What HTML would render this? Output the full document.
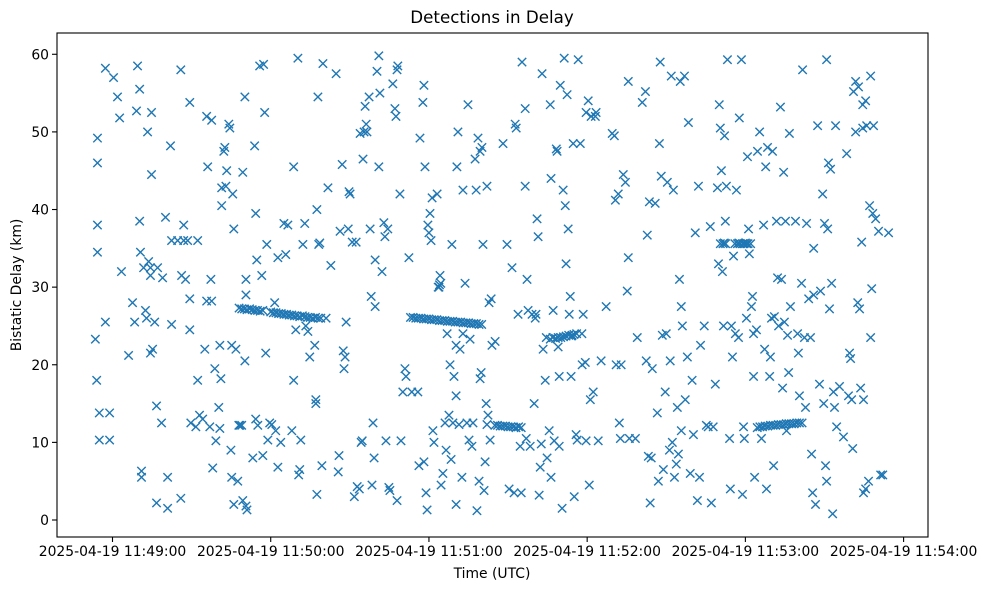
<!DOCTYPE html>
<html><head><meta charset="utf-8"><style>
html,body{margin:0;padding:0;background:#fff;}
svg text{font-family:"DejaVu Sans","Liberation Sans",sans-serif;fill:#000;}
</style></head><body>
<svg id="chart" width="987" height="590" xmlns="http://www.w3.org/2000/svg">
<rect width="987" height="590" fill="#fff"/>
<text x="492" y="23" font-size="16.7" text-anchor="middle">Detections in Delay</text>
<text x="492" y="578" font-size="13.9" text-anchor="middle">Time (UTC)</text>
<text x="21" y="285" font-size="13.9" text-anchor="middle" transform="rotate(-90 21 285)">Bistatic Delay (km)</text>
<g id="marks"></g>
<g id="axes"></g>
</svg>
<script>
const xTickSeconds=[0,60,120,180,240,300];
const xTickLabels=["2025-04-19 11:49:00","2025-04-19 11:50:00","2025-04-19 11:51:00","2025-04-19 11:52:00","2025-04-19 11:53:00","2025-04-19 11:54:00"];
const yTicks=[0,10,20,30,40,50,60];
const scatterTimes=[];
const scatterDelays=[];
const detections=[
[-6.5,23.3],[-6,18],[-5.7,49.2],[-5.7,46],[-5.7,38],[-5.7,34.5],[-5,13.8],[-5,10.3],[-2.7,58.2],[-2.7,25.5],[-1.1,13.8],[-1.1,10.3],[0.4,57],[1.9,54.5],[2.7,51.8],[3.4,32],
[6.1,21.2],[7.6,28],[8.4,25.5],[9.1,52.7],[9.5,58.5],[10.3,55.5],[10.3,38.5],[10.6,34.5],[11,6.3],[11,5.5],[11.8,32.5],[12.5,27],[12.9,26],[13.3,50],[13.7,33.3],[14.4,32.5],[14.8,52.5],[14.8,44.5],[14.4,31.5],[14.4,21.5],[15.2,22],[16,25.5],[16.7,14.7],[16.7,2.2],[17.1,32.5],[18.6,12.5],[19,31.2],[20.1,39],[20.9,5.5],[20.9,1.5],[22,48.2],[22.4,36],[22.4,25.2],
[24.7,36],[25.9,2.8],[25.9,58],[26.2,31.5],[27,36],[27,38],[27.7,31],[28.5,36],[29.3,53.8],[29.3,28.5],[29.3,24.5],[29.7,12.5],[31.6,12],[32.3,36],[32.3,18],[33,13.5],[34.2,13],[35,22],[35.7,28.2],[35.7,52],[36.1,45.5],[36.9,12],[37.3,31],[37.6,51.5],[37.6,28.2],[38,6.7],[38.8,19.5],[39.2,10.2],[40.3,14.5],[40.7,22.5],[40.7,11.8],[41.1,18.2],[41.4,40.5],[41.4,42.8],[42.2,47.5],[42.6,48],[43,43],[43.3,45],[44.1,51],[44.5,50.5],[44.9,9],[45.2,22.5],[45.2,5.5],[45.6,42],[46,2],[46,37.5],[46.8,22],[47.5,5],[47.9,12.2],[48.3,12.2],[49,12.2],[49.4,2.5],[49.4,44.8],[50.2,54.5],[50.2,20.5],[50.6,31],[50.6,29],[51,1.3],[50.6,1.8],
[53.2,8],[53.9,48.2],[54.3,39.5],[54.3,13],[54.7,33.5],[55.1,12.2],[55.8,58.5],[56.6,31.5],[57,8.3],[57.3,58.7],[57.7,52.5],[58.1,21.5],[58.5,35.5],[58.9,10.3],[59.6,12.5],[60.4,12.3],[61.5,28],[61.9,11.5],[62.7,33.8],[62.7,6.8],[63.8,10],[65,38.2],[65.7,34.2],[66.5,38],[68,11.5],[68.7,45.5],[68.7,18],[69.5,24.5],[70.3,59.5],[70.6,5.8],[71.4,10.3],[71,6.5],[72.2,35.5],[72.9,38.2],[73.3,25],[74.1,24.3],[74.8,21],[76.7,22.5],[77.1,15.5],[77.1,15],[77.5,40],[77.5,3.3],[77.9,54.5],[78.2,35.5],[78.6,35.7],[79.4,7],[79.8,58.8],[81.7,42.8],[82.8,32.8],
[84.8,57.5],[85.6,6.2],[85.9,8.3],[86.3,37.2],[87.1,45.8],[87.5,21.8],[87.8,19.5],[88.2,21],[88.6,25.5],[89.4,37.5],[89.7,42.3],[90.1,42],[90.9,35.8],[91.7,3],[92.4,35.8],[92.8,4.3],[93.6,4],[93.9,49.8],[94.3,10],[94.7,10.2],[95,46.5],[95.4,50],[95.8,53.3],[96.2,51],[96.5,50],[97.3,54.5],[97.7,37.5],[98.1,28.8],[98.4,4.5],[98.8,12.5],[99.2,8],[99.6,27.5],[99.6,33.5],[100.3,57.8],[101,59.8],[101,45.5],[101.4,55],[102.2,32],[102.9,38.3],[103.3,36.5],[103.7,10.2],[104.4,37.5],[104.8,4.2],[105.2,3.8],[106.3,56.2],[107.1,53],[107.5,52],[107.9,58],[107.9,2.5],[108.2,58.5],[109,42],[109.4,10.2],[110.1,16.5],[110.9,19.5],[111.3,18.5],[112.4,33.8],[113.5,16.5],
[115.8,16.5],[116.2,7],[116.6,49.2],[117.7,53.8],[118.1,56],[118.1,7.5],[118.5,45.5],[118.9,3.5],[119.3,1.3],[119.6,38],[120,37],[120.4,39.5],[120.8,36],[121.2,41.5],[121.5,11.5],[121.9,10],[123.1,42],[123.8,30],[124.2,31.5],[124.6,4.5],[125.3,6],[126.1,12.5],[126.5,9],[126.9,24],[127.6,13.5],[128,20],[128.4,7.8],[128.7,35.5],[129.1,12.5],[129.5,18.5],[130.3,2],[130.3,16],[130.3,22.5],[130.6,45.5],[131,50],[131.4,12.3],[131.8,22],[132.5,5.5],[132.9,42.5],[132.9,24],[133.7,30.5],[134.4,12.5],[134.8,53.5],[135.2,10.3],[135.6,23.3],[136.3,9.5],[136.7,12.5],[137.5,46.5],[137.9,42.5],[138.2,1.2],[138.6,49.2],[139,5],[139.4,18.2],[139.4,47.5],[139.8,19],[140.1,48],[140.5,35.5],[140.9,3.8],[141.3,7.5],[141.7,15],[142,12.3],[142,43],[142.4,13.5],[142.8,28],[143.2,10.3],[143.6,28.5],[143.9,22.5],[145.1,23],
[148.1,48.5],[149.6,35.5],[150.4,4],[151.5,32.5],[152.3,3.5],[152.7,51],[153.1,50.5],[153.8,26.5],[154.6,9.5],[155,3.5],[155.3,59],[156.5,53],[156.5,43],[156.9,10.5],[157.2,31],[157.6,27],[158.4,9.5],[159.1,26.5],[159.9,15],[160.3,26],[160.6,26.5],[161,38.8],[161.4,36.5],[161.8,3.2],[162.2,6.8],[162.6,9.8],[162.9,57.5],[163.3,22],[164.1,18],[164.8,8],[165.6,11.5],[166,53.5],[166.3,5.5],[166.3,44],[167.1,27],[167.5,10.2],[168.3,47.8],[168.6,47.5],[169,22.3],[169.4,18.5],[169.4,9.5],[169.8,56],[170.5,1.5],[170.9,42.5],[171.3,59.5],[171.7,40.5],[172,33],[172.4,54.8],[172.8,37.5],[173.2,26.5],[173.6,28.8],[173.9,18.5],[174.3,23.8],[174.7,48.5],[175.1,3],[175.8,11],[176.2,10.3],[176.6,59.3],[177.4,48.5],[178.1,20],[178.5,26.5],[179.3,20.3],[179.6,52.5],[179.6,10.2],[180.4,54],[180.8,4.5],[181.2,15.5],[181.5,52],[182.3,16.5],[183.1,52],[183.4,52.5],[184.2,10.2],[185.3,20.5],[187.2,27.5],
[189.5,49.8],[190.3,49.5],[190.7,41.2],[191,20],[191.8,42],[192.2,12.5],[192.6,10.5],[192.9,20],[193.7,44.5],[194.5,43.5],[195.2,29.5],[195.6,33.8],[195.6,56.5],[196,10.5],[198.3,10.5],[199,23.5],[200.9,53.8],[202.1,55.2],[202.4,20.5],[202.8,36.7],[203.2,8.2],[203.6,41],[203.9,2.2],[204.3,8],[204.7,19.5],[205.8,40.8],[206.6,13.8],[207,5],[207.4,48.5],[207.7,59],[208.1,44.3],[208.5,23.8],[208.9,6.5],[209.6,16.5],[210,24],[210.4,43.5],[211.2,9],[211.5,20.5],[211.9,57.2],[212.3,10],[212.7,42.5],[213.1,5.5],[213.8,7.2],[214.2,14.5],[214.6,8.5],[215,31],[215.3,56.5],[215.7,27.5],[215.7,11.5],[216.1,25],[216.9,57.2],[217.2,15.5],[218,21],[218.4,51.2],[219.1,6],[219.8,18],[220.3,11],[221,37],[221.8,2.5],[222.2,43],[222.6,5.5],[223,22.5],
[224.4,25],[225.2,12.2],[225.9,12],[226.7,37.8],[227.1,2.2],[227.8,12],[228.6,17.5],[229.4,42.8],[229.8,33],[230.1,53.5],[230.5,50.5],[230.9,45],[231.3,32],[231.7,25],[232.1,49.5],[232.4,38.5],[232.8,43],[233.2,59.3],[234,10.5],[234.3,4],[234.7,25],[235.1,21],[235.5,34],[236.2,24],[236.6,42.5],[237.4,23.5],[237.7,51.8],[238.5,59.3],[238.9,3.3],[239.3,12],[239.6,10.5],[240.4,26],[240.8,46.8],[241.2,37.5],[241.5,34.3],[242.3,27.5],[242.7,28.8],[243.1,18.5],[243.1,24],[243.5,5.5],[244.2,24.5],[244.6,47.5],[245.4,50],[246.1,10.5],[246.9,38],[247.3,22],[247.7,45.5],[248,4],[248.4,48],[249.2,18.5],[249.5,21],[249.9,26],[250.3,47.5],[250.7,7],[251,26.2],[251.8,38.5],[252.2,31.2],[252.6,25],[253.3,53.2],[253.7,31],[254.1,17],[254.5,44.8],[254.8,25.5],[255.2,38.5],[255.6,11.5],[256,23.8],[256.4,19],[256.7,49.8],[257.1,27.5],
[259,38.5],[259.8,24],[260.1,21.5],[260.5,16],[261.3,30.5],[261.7,58],[262.4,23.5],[262.8,14.5],[263.2,38.2],[264,28.5],[264.7,23.5],[265.1,8.5],[265.5,3.5],[265.9,29],[265.9,35],[266.6,2],[267.4,50.8],[268.1,17.5],[268.5,29.5],[269.3,42],[269.7,15],[270,38.2],[270.4,7],[270.8,59.3],[270.8,5],[271.2,37.5],[271.5,46],[271.9,27.2],[272.3,45.2],[272.7,30.5],[273.1,0.8],[273.4,16.5],[273.8,14.5],[274.2,50.8],[274.6,12],[275.7,17.2],[277.2,10.7],[278.4,47.2],[279.1,16],[279.5,21.5],[279.9,20.8],[280.3,15.5],[280.7,9.2],[281,55.2],[281.8,56.5],[281.8,50],[282.6,28],[282.9,55.8],[283.3,27.2],[283.7,17],[284.1,35.8],[284.5,50.5],[284.8,15.5],[284.8,3.5],[285.6,4],[286,50.8],[286.7,5],[287.1,40.5],[287.5,57.2],[287.5,23.5],[287.9,29.8],[288.3,39.5],[288.6,50.8],[289.4,38.8],[290.5,37.2],[291.3,5.8],[292.1,5.8],[294.3,37],[285.6,54],[284.5,53.5],
[48,27.3],[49,27.2],[50,27.2],[51,27.1],[52,27.2],[53,27.1],[54,27.0],[55,27.0],[56,26.9],[57,27.0],[60,26.8],[61,26.7],[62,26.7],[63,26.6],[64,26.6],[65,26.5],[66,26.5],[67,26.4],[68,26.4],[69,26.3],[70,26.3],[71,26.2],[72,26.3],[73,26.2],[74,26.1],[75,26.1],[76,26.0],[77,26.1],[78,26.0],[79,26.0],[81,26.0],
[113,26.1],[114,26.1],[115,26.0],[116,26.0],[117,26.0],[118,25.9],[119,25.9],[120,25.9],[121,25.8],[122,25.8],[123,25.8],[124,25.7],[125,25.7],[126,25.7],[127,25.6],[128,25.6],[129,25.6],[130,25.5],[131,25.5],[132,25.5],[133,25.4],[134,25.4],[135,25.4],[136,25.3],[137,25.3],[138,25.3],[139,25.2],[140,25.2],[123.5,30.0],[124,30.3],[124.5,30.5],
[145,12.2],[146,12.2],[147,12.1],[148,12.1],[149,12.1],[150,12.0],[151,12.0],[152,12.0],[153,11.9],[154,12.0],[155,11.9],
[164.5,23.5],[166,23.3],[167,23.5],[168,23.4],[169,23.5],[170,23.5],[171,23.6],[172,23.7],[173,23.8],[174,23.7],[175,23.9],[176,24.0],[178,24.0],
[230.5,35.6],[231.5,35.6],[232,35.7],[232.5,35.6],[236,35.6],[237,35.6],[237.5,35.7],[238,35.6],[239,35.6],[239.5,35.6],[240,35.7],[240.5,35.6],[241,35.6],[242,35.6],
[244.5,11.9],[245.5,12.0],[246.5,12.0],[247.5,12.1],[248.5,12.1],[249.5,12.2],[250.5,12.2],[251.5,12.2],[252.5,12.3],[253.5,12.3],[254.5,12.3],[255.5,12.4],[256.5,12.4],[257.5,12.4],[258.5,12.4],[259.5,12.5],[260.5,12.5],[261.5,12.5]
];
detections.forEach(p=>{scatterTimes.push(p[0]);scatterDelays.push(p[1]);});

const L=57,R=928,T=33,B=537;
function xs(t){return 112.5+t*2.637;}
function ys(d){return 520-d*7.762;}
const NS="http://www.w3.org/2000/svg";
const marks=document.getElementById('marks');
const axes=document.getElementById('axes');
function mk(tag,attrs,parent){const e=document.createElementNS(NS,tag);for(const k in attrs)e.setAttribute(k,attrs[k]);parent.appendChild(e);return e;}
for(let i=0;i<scatterTimes.length;i++){
  const cx=xs(scatterTimes[i]),cy=ys(scatterDelays[i]),s=4.2;
  const p=mk('path',{d:`M${cx-s},${cy-s}L${cx+s},${cy+s}M${cx-s},${cy+s}L${cx+s},${cy-s}`,stroke:'#1f77b4','stroke-width':1.4,fill:'none'},marks);
  
  
}
const frame=mk('rect',{x:L,y:T,width:R-L,height:B-T,fill:'none',stroke:'#000','stroke-width':1.1},axes);


xTickSeconds.forEach((t,i)=>{
  const x=xs(t);
  const ln=mk('line',{x1:x,x2:x,y1:B,y2:B+5,stroke:'#000','stroke-width':1.1},axes);
  
  
  const tx=mk('text',{x:x,y:B+19,'font-size':13.9,'text-anchor':'middle'},axes);
  tx.textContent=xTickLabels[i];
  
  
});
yTicks.forEach(v=>{
  const y=ys(v);
  const ln=mk('line',{x1:L-5,x2:L,y1:y,y2:y,stroke:'#000','stroke-width':1.1},axes);
  
  
  const tx=mk('text',{x:L-8,y:y+5,'font-size':13.9,'text-anchor':'end'},axes);
  tx.textContent=String(v);
  
  
});
</script>
</body></html>
